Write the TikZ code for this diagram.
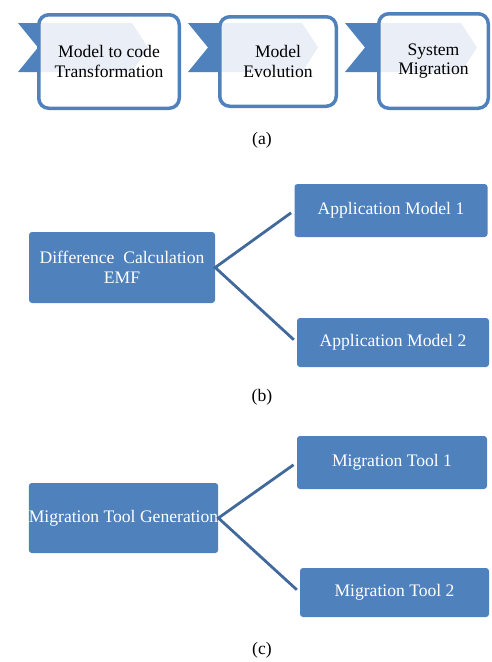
\documentclass[tikz,border=0pt]{standalone}
\usepackage{fontspec}
\setmainfont{Liberation Serif}
\usetikzlibrary{backgrounds}
\definecolor{sablue}{HTML}{4F81BD}
\definecolor{lightband}{HTML}{E9EEF7}
\definecolor{linkblue}{HTML}{41699C}
\begin{document}
\begin{tikzpicture}[x=1pt,y=-1pt,
  every node/.style={font=\fontsize{17.6}{19.5}\selectfont, align=center},
  bluebox/.style={fill=sablue, rounded corners=3pt, text=white, inner sep=0pt},
  chevbox/.style={draw=sablue, line width=3.5pt, rounded corners=10pt, inner sep=0pt, text=black},
  link/.style={draw=linkblue, line width=2.8pt, shorten <=4pt, shorten >=4pt, line join=miter},
  captext/.style={text=black}
]
\useasboundingbox (0,0) rectangle (491,662);

% (a)
\node[chevbox, minimum width=140.5pt, minimum height=93.5pt] (a1) at (109,61.5) {Model to code\\Transformation};
\node[chevbox, minimum width=116.5pt, minimum height=89.5pt] (a2) at (278,61.5) {Model\\Evolution};
\node[chevbox, minimum width=109.5pt, minimum height=94.5pt] (a3) at (433.5,61) {System\\Migration};
\begin{scope}[on background layer]
  \fill[sablue] (18,23) -- (40,23) -- (40,72) -- (18,72) -- (38,47.5) -- cycle;
  \fill[lightband] (40,23) -- (132,23) -- (148,47.5) -- (132,72) -- (40,72) -- cycle;
  \fill[sablue] (188,23) -- (221,23) -- (221,72) -- (188,72) -- (208,47.5) -- cycle;
  \fill[lightband] (221,23) -- (302,23) -- (318,47.5) -- (302,72) -- (221,72) -- cycle;
  \fill[sablue] (345,23) -- (380,23) -- (380,72) -- (345,72) -- (365,47.5) -- cycle;
  \fill[lightband] (380,23) -- (461,23) -- (477,47.5) -- (461,72) -- (380,72) -- cycle;
\end{scope}
\node[captext] (capa) at (262,140) {(a)};

% (b)
\node[bluebox, minimum width=186pt, minimum height=71pt] (b1) at (122,267.5) {Difference\ \ Calculation\\EMF};
\node[bluebox, minimum width=193pt, minimum height=53pt] (b2) at (391,210.5) {Application Model 1};
\node[bluebox, minimum width=192pt, minimum height=49pt] (b3) at (393,342.5) {Application Model 2};
\draw[link] (b2.west) -- (b1.east) -- (b3.west);
\node[captext] (capb) at (262,397) {(b)};

% (c)
\node[bluebox, minimum width=189pt, minimum height=70pt] (c1) at (123.5,518) {Migration Tool Generation};
\node[bluebox, minimum width=190pt, minimum height=53pt] (c2) at (392,462.5) {Migration Tool 1};
\node[bluebox, minimum width=189pt, minimum height=49pt] (c3) at (394.5,592.5) {Migration Tool 2};
\draw[link] (c2.west) -- (c1.east) -- (c3.west);
\node[captext] (capc) at (262,650) {(c)};
\end{tikzpicture}
\end{document}
